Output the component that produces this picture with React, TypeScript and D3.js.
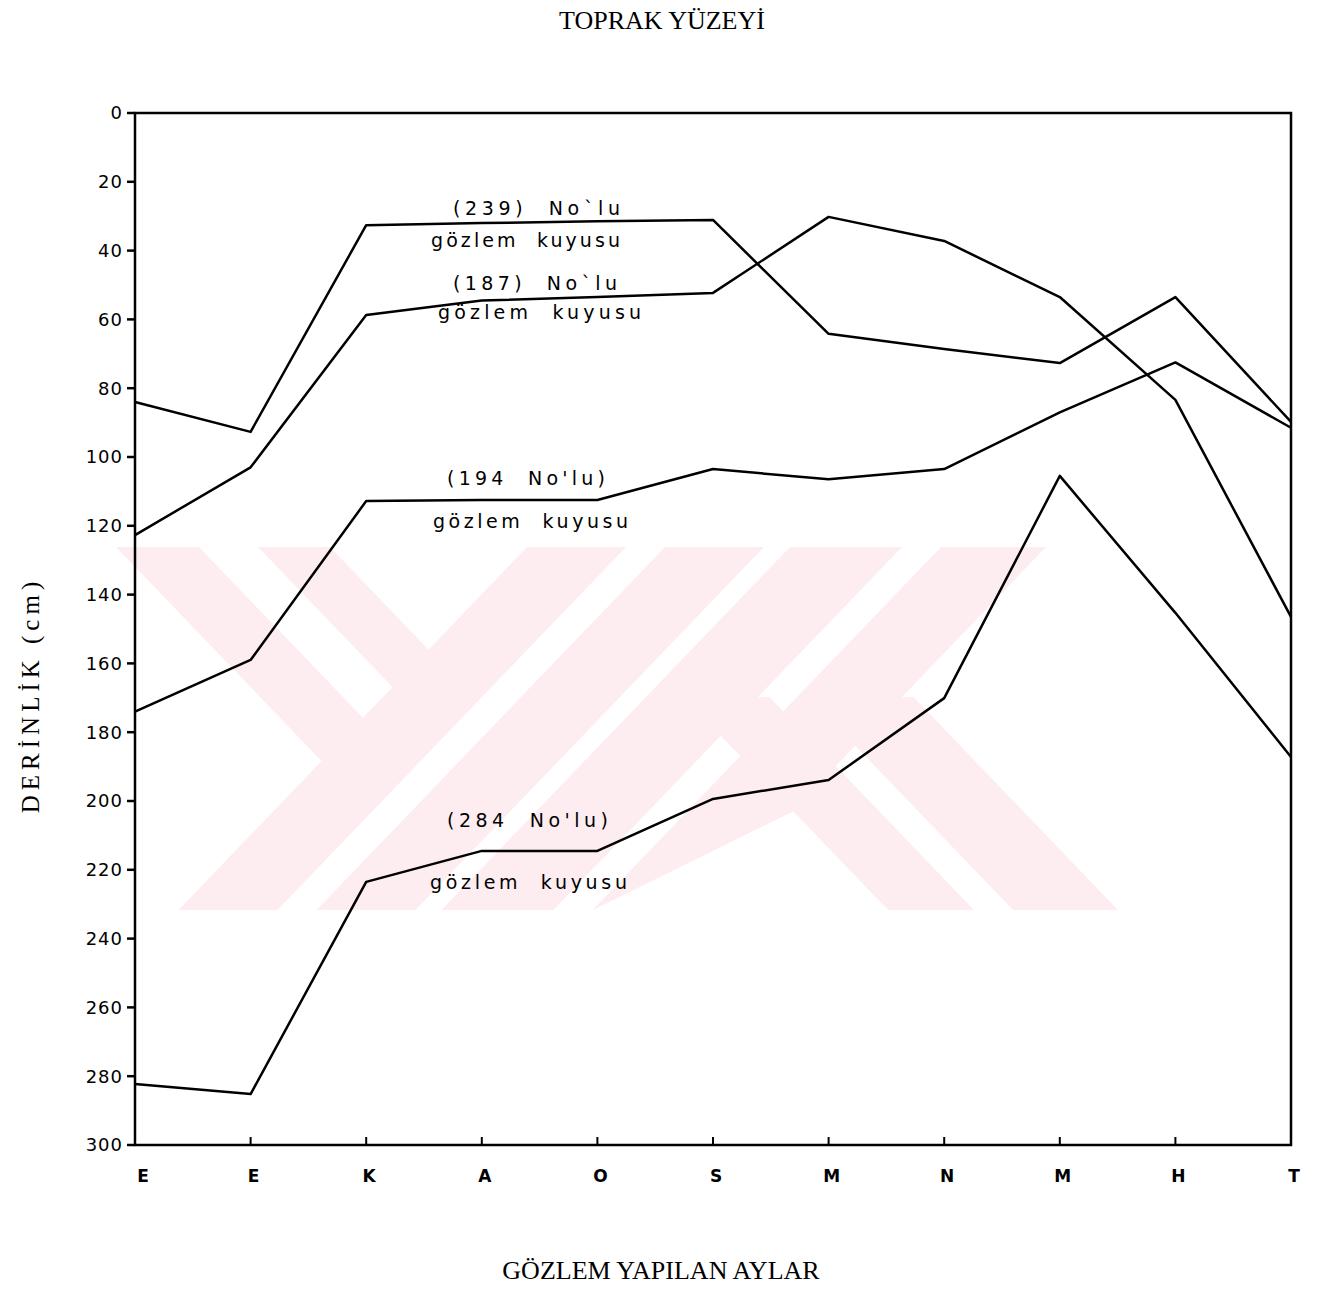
import React from 'react';
import * as d3 from 'd3';

// months of observation (x axis)
const months = ['E', 'E', 'K', 'A', 'O', 'S', 'M', 'N', 'M', 'H', 'T'];

// depth of ground water (cm) per well
const well239 = [84, 92.7, 32.6, 32, 31.5, 31.1, 64.2, 68.6, 72.7, 53.5, 89.8];
const well187 = [122.7, 103, 58.7, 54.5, 53.5, 52.3, 30.2, 37.2, 53.5, 83.4, 146.5];
const well194 = [174, 159, 112.8, 112.5, 112.5, 103.5, 106.5, 103.5, 87, 72.5, 91.5];
const well284 = [282.3, 285.2, 223.5, 214.5, 214.5, 199.4, 193.9, 170.1, 105.5, 145.3, 187.2];

const depthTicks = d3.range(0, 301, 20);

const W = 1319;
const H = 1290;
const left = 135;
const right = 1291;
const top = 113;
const bottom = 1145;

const hand = '"DejaVu Sans", Verdana, sans-serif';
const serif = '"Liberation Serif", "Times New Roman", serif';
const pink = '#fdedf0';

export default function App() {
  const x = d3.scalePoint<number>().domain(d3.range(months.length)).range([left, right]);
  const y = d3.scaleLinear().domain([0, 300]).range([top, bottom]);

  const line = d3
    .line<number>()
    .x((_, i) => x(i) as number)
    .y(d => y(d));

  const series = [well239, well187, well194, well284];

  // watermark (background logo): slanted stripes
  const wTop = 547;
  const wBot = 910;
  const dy = wBot - wTop;
  const k = 0.96;
  const sh = dy * k;
  const slashes = [
    [527, 626],
    [665, 764],
    [790, 902],
    [941, 1046],
  ];
  const backLeft = [
    [116, 199],
    [258, 330],
  ];
  const backRight = [
    [888 - sh, 974 - sh],
    [1013 - sh, 1118 - sh],
  ];
  const back = (a: number, b: number) =>
    `${a},${wTop} ${b},${wTop} ${b + sh},${wBot} ${a + sh},${wBot}`;
  const fwd = (a: number, b: number) =>
    `${a},${wTop} ${b},${wTop} ${b - sh},${wBot} ${a - sh},${wBot}`;

  // label blocks: [text, x, baseline, width]
  const labels: [string, number, number, number][] = [
    ['(239)  No`lu', 453, 215, 167],
    ['gözlem  kuyusu', 431, 247, 189],
    ['(187)  No`lu', 453, 290, 164],
    ['gözlem  kuyusu', 438, 319, 203],
    ['(194  No\'lu)', 447, 485, 158],
    ['gözlem  kuyusu', 433, 528, 195],
    ['(284  No\'lu)', 447, 827, 161],
    ['gözlem  kuyusu', 430, 889, 197],
  ];

  return (
    <svg
      width={W}
      height={H}
      style={{ position: 'absolute', left: 0, top: 0, background: '#fff' }}
    >
      <defs>
        <clipPath id="wm">
          <rect x={115} y={wTop} width={1005} height={dy} />
        </clipPath>
        <clipPath id="wmL">
          <polygon points={`0,${wTop} 527,${wTop} ${527 - sh},${wBot} 0,${wBot}`} />
        </clipPath>
        <clipPath id="wmR">
          <rect x={600} y={697} width={520} height={wBot - 697} />
        </clipPath>
      </defs>

      {/* watermark */}
      <g clipPath="url(#wm)" fill={pink}>
        <g clipPath="url(#wmL)">
          {backLeft.map(([a, b], i) => (
            <polygon key={'l' + i} points={back(a, b)} />
          ))}
        </g>
        {slashes.map(([a, b], i) => (
          <polygon key={'s' + i} points={fwd(a, b)} />
        ))}
        <g clipPath="url(#wmR)">
          {backRight.map(([a, b], i) => (
            <polygon key={'r' + i} points={back(a, b)} />
          ))}
        </g>
        <polygon points={`593,${wBot} 790,813 888,${wBot}`} fill="#fff" />
      </g>

      {/* frame */}
      <rect x={left} y={top} width={right - left} height={bottom - top} fill="none" stroke="#000" strokeWidth={2.5} />

      {/* y axis */}
      {depthTicks.map(t => (
        <g key={t}>
          <line x1={left - 8} x2={left} y1={y(t)} y2={y(t)} stroke="#000" strokeWidth={2.5} />
          <text
            x={left - 12}
            y={y(t)}
            dy="0.35em"
            textAnchor="end"
            fontFamily={hand}
            fontSize={18}
            letterSpacing={1}
          >
            {t}
          </text>
        </g>
      ))}

      {/* x axis */}
      {months.map((m, i) => (
        <g key={i}>
          {i > 0 && i < months.length - 1 && (
            <line x1={x(i)} x2={x(i)} y1={bottom} y2={bottom - 8} stroke="#000" strokeWidth={2} />
          )}
          <text
            x={(x(i) as number) + (i === 0 ? 8 : 3)}
            y={1182}
            textAnchor="middle"
            fontFamily={hand}
            fontSize={17}
            fontWeight="bold"
          >
            {m}
          </text>
        </g>
      ))}

      {/* series */}
      {series.map((s, i) => (
        <path key={i} d={line(s) || ''} fill="none" stroke="#000" strokeWidth={2.5} strokeLinejoin="round" />
      ))}

      {/* well labels */}
      {labels.map(([t, lx, ly, w], i) => (
        <text
          key={i}
          x={lx}
          y={ly}
          fontFamily={hand}
          fontSize={19}
          textLength={w}
          lengthAdjust="spacing"
          style={{ whiteSpace: 'pre' }}
        >
          {t}
        </text>
      ))}

      {/* titles */}
      <text x={662} y={29} textAnchor="middle" fontFamily={serif} fontSize={26}>
        TOPRAK YÜZEYİ
      </text>
      <text x={661} y={1279} textAnchor="middle" fontFamily={serif} fontSize={26}>
        GÖZLEM YAPILAN AYLAR
      </text>
      <text
        transform="translate(39,695) rotate(-90)"
        textAnchor="middle"
        fontFamily={serif}
        fontSize={25}
        letterSpacing={5}
      >
        DERİNLİK (cm)
      </text>
    </svg>
  );
}
